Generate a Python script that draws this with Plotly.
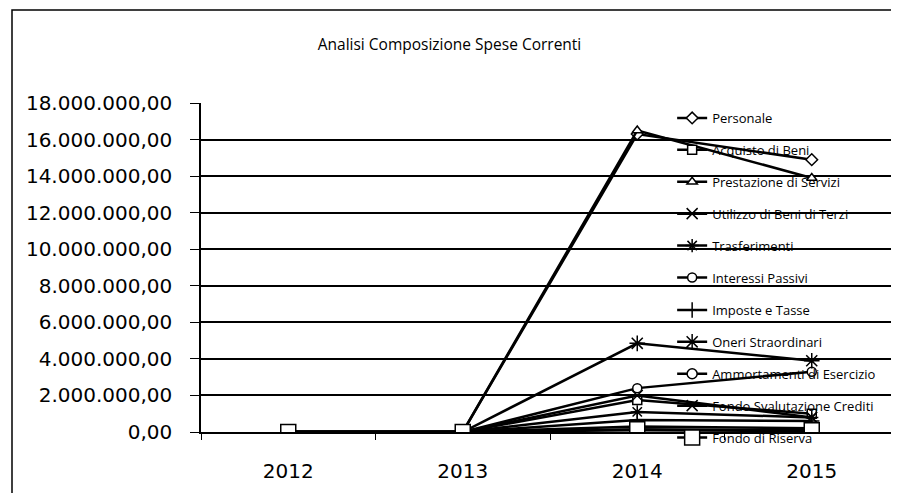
import plotly.graph_objects as go

years = ["2012", "2013", "2014", "2015"]
series_names = [
    "Personale", "Acquisto di Beni", "Prestazione di Servizi",
    "Utilizzo di Beni di Terzi", "Trasferimenti", "Interessi Passivi",
    "Imposte e Tasse", "Oneri Straordinari", "Ammortamenti di Esercizio",
    "Fondo Svalutazione Crediti", "Fondo di Riserva",
]
personale = [0, 0, 16300000, 14900000]
acquisto_beni = [0, 0, 1750000, 1000000]
prestazione_servizi = [0, 0, 16500000, 13900000]
utilizzo_beni_terzi = [0, 0, 100000, 50000]
trasferimenti = [0, 0, 1100000, 800000]
interessi_passivi = [0, 0, 2400000, 3300000]
imposte_tasse = [0, 0, 650000, 600000]
oneri_straordinari = [0, 0, 4850000, 3900000]
ammortamenti = [0, 0, 300000, 200000]
fondo_svalutazione = [0, 0, 2000000, 800000]
fondo_riserva = [0, 0, 150000, 100000]
y_ticks = [0, 2000000, 4000000, 6000000, 8000000, 10000000,
           12000000, 14000000, 16000000, 18000000]

values = [personale, acquisto_beni, prestazione_servizi, utilizzo_beni_terzi,
          trasferimenti, interessi_passivi, imposte_tasse, oneri_straordinari,
          ammortamenti, fondo_svalutazione, fondo_riserva]
symbols = ["diamond", "square", "triangle-up", "x-thin", "asterisk",
           "circle", "cross-thin", "asterisk", "circle", "x-thin", "square"]
sizes = [9, 9, 9, 11, 11, 9, 11, 13, 10, 11, 15]

fig = go.Figure()
for i, (name, vals, sym, sz) in enumerate(zip(series_names, values, symbols, sizes)):
    fig.add_trace(go.Scatter(
        x=years, y=vals, name=name, mode="lines+markers",
        legendgroup=f"g{i}",
        legend="legend" if i < 6 else "legend2",
        line=dict(color="black", width=2.5),
        marker=dict(symbol=sym, size=sz, color="white",
                    line=dict(color="black", width=1.5)),
    ))

W, H = 891, 485
legend_style = dict(x=0.675, xanchor="left", yanchor="top",
                    bgcolor="rgba(0,0,0,0)", tracegroupgap=12,
                    font=dict(size=13, family="Open Sans", color="black"),
                    itemwidth=30)
fig.update_layout(
    width=W, height=H,
    margin=dict(l=193, r=0, t=95, b=61, autoexpand=False),
    paper_bgcolor="white", plot_bgcolor="white",
    separators=",.",
    font=dict(family="DejaVu Sans", color="black"),
    title=dict(text="Analisi Composizione Spese Correnti",
               x=(449.5 - 201) / 698, xref="paper", xanchor="center",
               y=1 - 37 / H, yanchor="middle",
               font=dict(size=15.5, family="Open Sans", color="black")),
    showlegend=True,
    legend=dict(y=1.0, **legend_style),
    legend2=dict(y=1 - (295 - 103) / 329, **legend_style),
)
fig.update_xaxes(
    type="category", showgrid=False, showline=True, linecolor="black",
    linewidth=1.5, ticks="outside", tickson="boundaries", ticklen=6,
    tickcolor="black", ticklabelstandoff=20,
    tickfont=dict(size=20, family="DejaVu Sans"),
    range=[-0.5, 3.5],
)
fig.update_yaxes(
    range=[0, 18000000], tickvals=y_ticks, tickformat=",.2f",
    showgrid=True, gridcolor="black", gridwidth=1.5,
    showline=True, linecolor="black", linewidth=1.5,
    ticks="outside", ticklen=9, tickcolor="black", ticklabelstandoff=14,
    tickfont=dict(size=20, family="DejaVu Sans"), zeroline=False,
)
fig.add_shape(type="rect", xref="paper", yref="paper",
              x0=(12 - 201) / 698, x1=1.05,
              y0=-0.3, y1=1 + (103 - 10) / 329,
              line=dict(color="black", width=1.5), layer="below")

fig.write_html("out.html")
